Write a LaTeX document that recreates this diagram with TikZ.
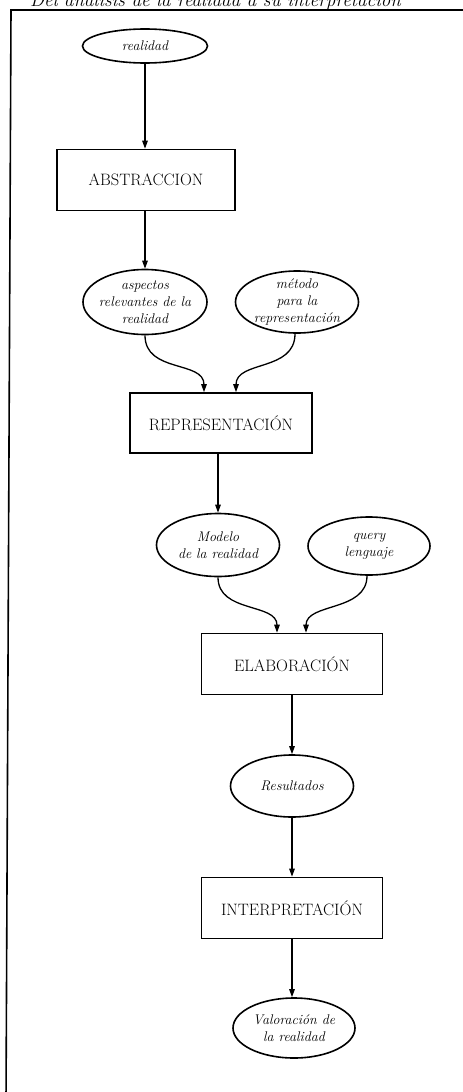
\documentclass[tikz,border=0pt]{standalone}
\usetikzlibrary{shapes.geometric,arrows.meta}
\begin{document}
\begin{tikzpicture}[x=1pt,y=-1pt,
  box/.style={draw,line width=1.6pt,minimum width=181pt,minimum height=61pt,inner sep=0pt,font=\fontsize{16.5}{19}\selectfont},
  oval/.style 2 args={draw,ellipse,line width=1.6pt,inner sep=0pt,minimum width=#1,minimum height=#2},
  otext/.style={align=center,inner sep=0pt,font=\fontsize{14}{17}\selectfont\itshape},
  arr/.style={line width=1.3pt,-{Triangle[length=8pt,width=5.5pt]}},
  frame/.style={line width=1.6pt}]
\useasboundingbox (0,0) rectangle (463,1092);
\fill[white] (0,0) rectangle (463,1092);
% caption (cut off at the top edge)
\node[font=\fontsize{19}{22}\selectfont\itshape, anchor=base west, inner sep=0pt] (cap) at (30,6) {Del análisis de la realidad a su interpretación};
% frame
\coordinate (fb) at (6,1102);
\coordinate (ft) at (11,10);
\coordinate (fr) at (470,10);
\draw[frame] (fb) -- (ft) -- (fr);
% nodes
\node[oval={125pt}{34pt}] (real) at (145,46) {};
\node[otext] (realt) at (real) {realidad};
\node[box, minimum width=178pt] (abs) at (146,180) {ABSTRACCION};
\node[oval={124pt}{65pt}] (asp) at (145,302) {};
\node[otext] (aspt) at (asp) {aspectos\\relevantes de la\\realidad};
\node[oval={123pt}{62pt}] (met) at (297,302) {};
\node[otext] (mett) at (met) {método\\para la\\representación};
\node[box, minimum width=182pt, minimum height=60pt] (rep) at (221,423) {REPRESENTACIÓN};
\node[oval={123pt}{63pt}] (mod) at (218,545) {};
\node[otext] (modt) at (mod) {Modelo\\de la realidad};
\node[oval={122pt}{58pt}] (qry) at (369,546) {};
\node[otext] (qryt) at (qry) {query\\lenguaje};
\node[box] (ela) at (292,664) {ELABORACIÓN};
\node[oval={123pt}{62pt}] (res) at (292,786) {};
\node[otext] (rest) at (res) {Resultados};
\node[box] (int) at (292,908) {INTERPRETACIÓN};
\node[oval={122pt}{60pt}] (val) at (294,1028) {};
\node[otext] (valt) at (val) {Valoración de\\la realidad};
% connectors
\draw[arr] (real.south) -- (real.south |- abs.north);
\draw[arr] (asp.north |- abs.south) -- (asp.north);
\draw[arr] (asp.south) .. controls +(0,38) and +(0,-32) .. ([xshift=-17pt]rep.north);
\draw[arr] ([xshift=-2pt]met.south) .. controls +(0,38) and +(0,-32) .. ([xshift=15pt]rep.north);
\draw[arr] (mod.north |- rep.south) -- (mod.north);
\draw[arr] (mod.south) .. controls +(0,36) and +(0,-30) .. ([xshift=-15pt]ela.north);
\draw[arr] ([xshift=-2pt]qry.south) .. controls +(0,36) and +(0,-30) .. ([xshift=14pt]ela.north);
\draw[arr] (ela) -- (res);
\draw[arr] (res) -- (int);
\draw[arr] (int.south) -- (int.south |- val.north);
\end{tikzpicture}
\end{document}
